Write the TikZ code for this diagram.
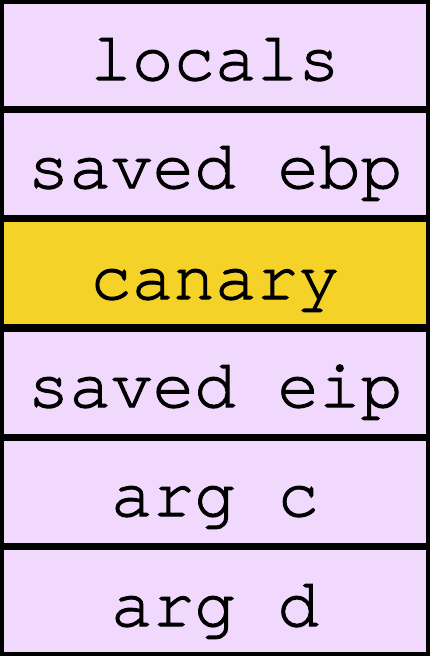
\documentclass[tikz,border=0pt]{standalone}
\usepackage{fontspec}
\newfontfamily\stackfont[FakeBold=1.6]{TeX Gyre Cursor}

\tikzset{every picture/.style={line width=0.75pt}}

\begin{document}
\begin{tikzpicture}[x=0.75pt,y=0.75pt,yscale=-1,xscale=1]
%set diagram size to 430 x 656
\useasboundingbox (0,0) rectangle (430,656);

%Shape: Rectangle [id:locals]
\draw  [fill={rgb, 255:red, 241; green, 216; blue, 253 }  ,fill opacity=1 ][line width=2.7]  (1.75,1.75) -- (428.25,1.75) -- (428.25,107.58) -- (1.75,107.58) -- cycle ;
%Shape: Rectangle [id:savedebp]
\draw  [fill={rgb, 255:red, 241; green, 216; blue, 253 }  ,fill opacity=1 ][line width=2.7]  (1.75,111.08) -- (428.25,111.08) -- (428.25,216.92) -- (1.75,216.92) -- cycle ;
%Shape: Rectangle [id:canary]
\draw  [fill={rgb, 255:red, 245; green, 210; blue, 40 }  ,fill opacity=1 ][line width=2.7]  (1.75,220.42) -- (428.25,220.42) -- (428.25,326.25) -- (1.75,326.25) -- cycle ;
%Shape: Rectangle [id:savedeip]
\draw  [fill={rgb, 255:red, 241; green, 216; blue, 253 }  ,fill opacity=1 ][line width=2.7]  (1.75,329.75) -- (428.25,329.75) -- (428.25,435.58) -- (1.75,435.58) -- cycle ;
%Shape: Rectangle [id:argc]
\draw  [fill={rgb, 255:red, 241; green, 216; blue, 253 }  ,fill opacity=1 ][line width=2.7]  (1.75,439.08) -- (428.25,439.08) -- (428.25,544.92) -- (1.75,544.92) -- cycle ;
%Shape: Rectangle [id:argd]
\draw  [fill={rgb, 255:red, 241; green, 216; blue, 253 }  ,fill opacity=1 ][line width=2.7]  (1.75,548.42) -- (428.25,548.42) -- (428.25,654.25) -- (1.75,654.25) -- cycle ;

% Text Node
\draw (215,80) node (tlocals) [anchor=base][inner sep=0.75pt]  [font=\stackfont\fontsize{52}{52}\selectfont]  {locals};
% Text Node
\draw (215,188) node (tsavedebp) [anchor=base][inner sep=0.75pt]  [font=\stackfont\fontsize{52}{52}\selectfont]  {saved ebp};
% Text Node
\draw (215,299) node (tcanary) [anchor=base][inner sep=0.75pt]  [font=\stackfont\fontsize{52}{52}\selectfont]  {canary};
% Text Node
\draw (215,407) node (tsavedeip) [anchor=base][inner sep=0.75pt]  [font=\stackfont\fontsize{52}{52}\selectfont]  {saved eip};
% Text Node
\draw (215,516) node (targc) [anchor=base][inner sep=0.75pt]  [font=\stackfont\fontsize{52}{52}\selectfont]  {arg c};
% Text Node
\draw (215,626) node (targd) [anchor=base][inner sep=0.75pt]  [font=\stackfont\fontsize{52}{52}\selectfont]  {arg d};

\end{tikzpicture}
\end{document}
